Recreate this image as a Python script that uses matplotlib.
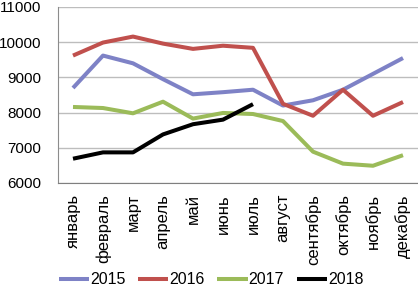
import matplotlib
matplotlib.use('Agg')
import matplotlib.pyplot as plt

# Monthly values

months = ['январь', 'февраль', 'март', 'апрель', 'май', 'июнь', 'июль',
          'август', 'сентябрь', 'октябрь', 'ноябрь', 'декабрь']

y2015 = [8700, 9620, 9400, 8950, 8520, 8580, 8650, 8200, 8350, 8650, 9100, 9550]
y2016 = [9620, 9990, 10160, 9960, 9810, 9900, 9840, 8250, 7910, 8650, 7910, 8300]
y2017 = [8160, 8130, 7980, 8310, 7830, 7990, 7960, 7760, 6890, 6550, 6490, 6790]
y2018 = [6690, 6870, 6870, 7380, 7670, 7800, 8240]

series = [('2015', y2015, '#7E82C6'),
          ('2016', y2016, '#C0504D'),
          ('2017', y2017, '#9BBB59'),
          ('2018', y2018, '#000000')]

plt.rcParams['font.family'] = ['Liberation Sans', 'DejaVu Sans']

fig = plt.figure(figsize=(4.18, 2.88), dpi=100)
ax = fig.add_axes([58 / 418, 1 - 183 / 288, 1 - 58 / 418, 176 / 288])

for name, vals, col in series:
    ax.plot(range(len(vals)), vals, color=col, lw=2.9, label=name,
            solid_joinstyle='round', solid_capstyle='butt')

ax.set_xlim(-0.5, 11.5)
ax.set_ylim(6000, 11000)
ax.set_yticks(range(6000, 11001, 1000))
ax.set_xticks(range(12))
ax.set_xticklabels(months, rotation=90, fontsize=12)
ax.tick_params(axis='y', labelsize=11, length=0, pad=12)
ax.tick_params(axis='x', length=0, pad=8)

ax.grid(axis='y', color='#BDBDBD', lw=1)
ax.set_axisbelow(True)
for s in ['top', 'right']:
    ax.spines[s].set_visible(False)
ax.spines['left'].set_color('#8C8C8C')
ax.spines['bottom'].set_color('#7F7F7F')

fig.legend(loc='center', bbox_to_anchor=(0.505, 0.028), ncol=4, frameon=False,
           fontsize=11.5, handlelength=1.9, columnspacing=0.8, handletextpad=0.05)

fig.savefig('out.png', dpi=100)
